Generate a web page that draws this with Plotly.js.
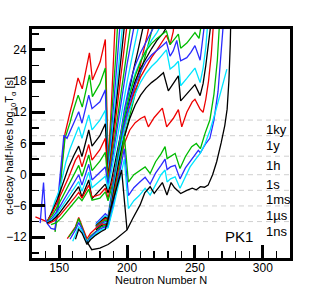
<!DOCTYPE html>
<html><head><meta charset="utf-8">
<script src="https://cdn.plot.ly/plotly-3.0.1.min.js"></script>
<style>html,body{margin:0;padding:0;background:#fff}#chart{width:322px;height:287px}</style>
</head><body><div id="chart"></div>
<script>
// Neutron number N and log10 T_alpha [s] for each isotopic chain
const n0 = [147,150,152,154.3,158,160,163.9,167,172.3,174.5,180.2,184,186,188,190,191.5];
const t0 = [-10.8,-4,2,7.9,12,14,18.6,16.5,23.4,18.2,21.7,26,2.5,11,22,31];
const n1 = [147,150,152,154.3,158,160,164,167,172.3,174.5,180,184,186,188,190,192,193.5];
const t1 = [-11,-5,1,7,10,12,15.3,13,19.2,15,17.5,20.5,1.5,8.5,16,24,31];
const n2 = [141,144,147,149,152,153.5,155.8,160,164.4,166.8,171.8,174.2,180,184,186,188,190,192,194,195.5];
const t2 = [-9.3,-10.3,-10.5,-5,3.8,7.6,7,9.5,12.1,9.9,15.3,12.7,14,16.3,0.5,6.5,13,19.5,26,31];
const n3 = [141,144,147,149.4,152,155,158,161,164.4,166.8,171.8,174.2,180,184,186,188,190,192,194,196,197.5];
const t3 = [-9.2,-7.5,-5,-3.5,-1,2.5,5,7,9.2,7,11.5,8.6,10.5,12.4,0,5,10.5,16,21.5,27,31];
const n4 = [141,145,149,153,157,161,164.4,166.8,171.8,174.2,180,184,186,188,190,192,194,196,198,199];
const t4 = [-9.1,-7,-4.5,-1.5,1.5,3.8,5.5,3.5,8.6,5.5,7.5,9.8,-0.5,3.5,8.3,13,18,23,28,31];
const n5 = [132.5,137,141,145,149,153,157,162,164.4,166.8,171.8,174.2,180,184,186,188,190,192,194,196,198,200,201];
const t5 = [-8.1,-8.6,-9,-7.3,-5.2,-2.8,-0.5,2.8,3.8,1.5,5.8,2.8,4.8,7,-1,2.8,7,11.5,16,20.3,24.5,28.3,31];
const n6 = [141,145,149,153,157,161,164.4,166.8,171.8,174.2,180,184,186,188,190,192,194,196,198,200,202,203.5,204.5];
const t6 = [-9.1,-7.8,-6,-4,-2,0,1.8,-0.3,3.8,0.8,2.6,4.3,-1.5,1.8,5.5,9.5,13.5,17.3,21,24.5,27.5,30,31.5];
const n7 = [136,138.5,140,141,145,149,153,157,161,164.4,166.8,171.8,174.2,180,184,186,188,190,192,194,196,198,200,203,205.5,207];
const t7 = [-9.3,-1.5,-8.5,-9.2,-8.3,-6.8,-5,-3.3,-1.5,0,-2,2,-1,0.5,1.5,-2,0.8,4.2,7.7,11.2,14.6,18,21.2,25.5,28.7,31];
const n8 = [141,145,149,153,157,161,164.4,166.8,171.8,174.2,180,184,186,188,190,192,194,196,198,200,204,207,209,210.5];
const t8 = [-9.2,-8.6,-7.3,-5.8,-4.2,-2.7,-1.3,-3.2,0.5,-2.5,-1.3,-0.3,-2.8,-0.3,2.7,5.8,8.9,12,15,17.8,23,26.8,29.3,31];
const n9 = [141,145,149,153,157,161,164.4,166.8,171.8,174.2,180,184,186,188,190,192,194,196,198,200,204,208,211,213,214];
const t9 = [-9.3,-8.8,-7.8,-6.5,-5,-3.5,-2.3,-4.3,-1,-4.6,-3,-1.8,-3.5,-1.8,0.8,3.5,6.2,9,11.7,14.3,19.3,23.8,27,29.5,31];
const n10 = [142,146,150,154,158,162,164.4,166.8,171.8,174.2,180,184,186,190,194,198,202,206,210,213,215,216.5,217.5];
const t10 = [-9.4,-8.9,-8,-6.8,-5.5,-4.2,-3.4,-4.5,-2,-4.3,-3.8,-2.6,-4.5,-0.5,4,8.5,13,17.3,21.3,24.5,27,29,31];
const n11 = [144,148,152,156,160,164.4,166.8,171.8,174.2,180,184,186,190,194,198,202,206,210,214,217,219,220.5];
const t11 = [-9.6,-9.2,-8.2,-7,-5.8,-4.3,-5,-2.8,-4.9,-4.5,-3.3,-5,-1.2,3,7.3,11.6,15.8,19.7,23.4,26.3,28.5,31];
const n12 = [177,181,184,186,190,194,198,202,206,210,214,218,221,222.5];
const t12 = [-9.4,-8.3,-7.5,-8,-1,6,12.5,17.5,21,23.5,25.5,27.5,29,31];
const n13 = [177,181,184,186,190,194,198,202,206,210,214,218,222,224.5,226];
const t13 = [-9.6,-8.6,-7.9,-8.3,-1.7,5,11.3,16,19.5,22,24,25.8,27.3,28.5,31];
const n14 = [177,181,184,186,190,194,198,202,206,210,214,218,222,226.8,229,230];
const t14 = [-9.8,-8.9,-8.2,-8.5,-2.3,4,10,14.5,18,20.5,22.5,24.2,25.8,27.3,28.3,31];
const n15 = [177,181.6,184,186,190,194,198,202,206,210,214,218,222,226,229,231.7,234,235.5];
const t15 = [-9.9,-8.9,-8.4,-8.7,-2.9,3,8.8,13,16.3,18.8,20.8,22.5,24,25.5,26.8,25,27.5,31];
const n16 = [177,181,184,186,190,194,198,202,206,210,214,218,222,226,229,231.7,235,237.8,239.5,244,247,250,253,255,256];
const t16 = [-10,-9.2,-8.7,-8.8,-1.8,5,11,15.5,19,21.8,23.8,25.2,26.2,27,27.6,25,26,27,24.3,25.3,26.3,27.3,26.2,29,31];
const n17 = [177,181,184,186,190,194,198,202,206,210,214,218,222,226,229,231.7,234,236.6,239.5,244,247,250,253.8,255.5,257,258];
const t17 = [-10.2,-9.4,-9,-9,-2.3,4.2,9.8,14,17.3,19.8,21.7,23,24,24.8,25.5,22.8,23.8,25.8,21.9,22.5,23.5,24.8,22,25,28.5,31];
const n18 = [177,181,184,186,190,194,198,202,206,210,214,218,222,226,229,231.7,235,237.8,239.5,244,247,250,253.8,256,258,259.5,260];
const t18 = [-10.4,-9.6,-9.3,-9.3,-2.8,3.4,8.6,12.5,15.5,17.8,19.5,20.8,21.8,23,24,20.3,21,21.8,17.1,18.5,19.5,20.5,17.7,20.5,24.5,28.5,31];
const n19 = [177,181,184,186,190,194,198,202,206,210,214,218,222,226.8,230.4,234,237.8,239.5,244,247,250,253.8,256,258,260,261.5,262];
const t19 = [-10.6,-9.8,-9.5,-9.5,-3.4,2.5,7.3,10.8,13.4,15.3,16.7,17.7,18.5,19.6,16.1,17.5,19,14.2,15.5,16.5,17.3,15.2,17.5,21,25,28.5,31];
const n20 = [156,160,162,164.4,166.8,170.5,173,177,181.6,184,186,190,194,198,202,206,210,213,215.7,220,226,229.2,234,237.8,240.3,244,248,250,253.8,256,258,260,262,263.5,264];
const t20 = [-12.3,-10.9,-10,-8.2,-9.8,-12.3,-11.3,-10.3,-9.4,-9.7,-9.7,-4,1.5,6,8.6,10,10.8,11.2,9.2,11,12.8,9.2,10.8,12.5,9.2,12,14,14.5,12.6,12,14.5,18,23,28.5,31];
const n21 = [157,160,162,164.4,166.8,170.5,173,177,181,184,186,190,194,198,201,205,209,213.3,217,221,225,228,229.5,232,235.4,239,243,247.6,251,254,257.5,261,264,266.5,268,268.5];
const t21 = [-12,-11,-10.2,-8.4,-10,-12.8,-11.8,-10.8,-10,-9.8,-9.8,-4.8,0.5,7.5,-1.4,0,0.8,1.5,0.25,2.5,4,5.4,3.1,3.6,4.1,1.2,3.5,5.4,6,5,8,10.5,15.5,22,28.5,31];
const n22 = [158,162,164.4,166.8,170.5,173,177,181,184,186,190,194,198,201,205,209,213.3,217,221,225,228,229.5,232,235.4,239,243,246.4,250,252.5,254,258,261,264,267,269.5,271,271.5];
const t22 = [-12.4,-10.6,-9.2,-10.4,-13,-12,-11,-10.3,-10,-10,-5.5,-0.5,5,-4,-2.5,-1.5,-0.5,-1.8,0.3,1.8,3,1,1.5,1.8,-0.8,1.3,2.5,3.7,4.7,4.2,6,7,10.5,16,23,28.5,31];
const n23 = [160,162,164.4,166.8,170.5,173,177,181,184,186,190,194,198,201,205,209,213.3,217,221,225,228,229.5,232,235.4,239,243,246.4,250,253.8,257.5,261.2,265,269,273.5];
const t23 = [-12.8,-11.6,-10,-10.8,-13.2,-12.3,-11.3,-10.6,-10.3,-10.2,-6.2,-1.8,3,-6.5,-5,-4,-2.6,-3.9,-1.8,0,0.9,-1.4,-0.8,-0.4,-2.6,-0.3,1.5,2.8,4.1,6,8.6,12,16,20.3];
const n24 = [170.3,174,180,186,192,196,200,204,209.6,213,217,220,223,226,229.4,232.4,235,239.5,244,248,251,254,257,259.7,263,266,269.3,272,273.7,275,276,276.5];
const t24 = [-12.8,-14.4,-14.1,-13.4,-12.3,-11.5,-10.6,-8.5,-5.8,-3.5,-2.3,-3.6,-2.5,-1.5,-3.9,-1.5,-2.5,-3.6,-3,-2.6,-2.9,-2.3,-2.4,-2,0,2.5,6.1,9.5,12.6,18,25,31];
const n25 = [162,164.4,166.8,170.5,173,177,181,184,188,192,196,200];
const t25 = [-12.4,-10.5,-11.2,-13.4,-12.5,-11.6,-10.9,-10.5,-6.5,-2.8,0.9,-10.6];

const chainN = [n0,n1,n2,n3,n4,n5,n6,n7,n8,n9,n10,n11,n12,n13,n14,n15,n16,n17,n18,n19,n20,n21,n22,n23,n24,n25];
const chainT = [t0,t1,t2,t3,t4,t5,t6,t7,t8,t9,t10,t11,t12,t13,t14,t15,t16,t17,t18,t19,t20,t21,t22,t23,t24,t25];
const palette = ['#ee0000','#00bb00','#2b2bff','#00e5ff','#000000'];

// Reference time scales (log10 seconds)
const scaleLabels = ['1ky','1y','1h','1s','1ms','1\u00b5s','1ns'];
const scaleValues = [10.5, 7.5, 3.56, 0, -3, -6, -9];

const traces = chainN.map((nx, i) => ({
  x: nx, y: chainT[i], mode: 'lines', type: 'scatter',
  line: {color: i === 25 ? '#000000' : palette[i % 5], width: 1.3},
  hoverinfo: 'skip', showlegend: false
}));

const shapes = scaleValues.map(v => ({
  type: 'line', xref: 'paper', x0: 0, x1: 1, yref: 'y', y0: v, y1: v,
  line: {color: '#cfcfcf', width: 1, dash: '5px,4px'}, layer: 'below'
}));

const annotations = scaleValues.map((v, i) => ({
  text: scaleLabels[i], xref: 'paper', x: 0.899, xanchor: 'left',
  yref: 'y', y: v, yanchor: 'top', showarrow: false,
  font: {size: 13, color: '#000'}
}));
annotations.push({text: 'PK1', xref: 'paper', x: 0.8035, xanchor: 'center',
  yref: 'paper', y: 0.095, yanchor: 'middle', showarrow: false, font: {size: 15, color: '#000'}});
annotations.push({text: 'Neutron Number N', xref: 'paper', x: 0.5, xanchor: 'center',
  yref: 'paper', y: -0.097, yanchor: 'middle', showarrow: false, font: {size: 11, color: '#000'}});
annotations.push({text: '\u03b1-decay half-lives log<sub>10</sub>T<sub>\u03b1</sub> [s]', xref: 'paper', x: -0.085, xanchor: 'center',
  yref: 'paper', y: 0.49, yanchor: 'middle', textangle: -90, showarrow: false, font: {size: 11, color: '#000'}});

const layout = {
  width: 322, height: 287,
  margin: {l: 32, r: 32, t: 29, b: 29, pad: 0},
  paper_bgcolor: '#ffffff', plot_bgcolor: '#ffffff', showlegend: false,
  font: {family: 'Liberation Sans, Arial, sans-serif', size: 12, color: '#000'},
  xaxis: {
    range: [130, 320], tickmode: 'linear', tick0: 0, dtick: 50,
    ticks: 'inside', ticklen: 13, tickwidth: 3, tickcolor: '#000',
    showline: true, linewidth: 3, linecolor: '#000', mirror: true,
    showgrid: false, zeroline: false, automargin: false,
    tickfont: {size: 12}, ticklabelstandoff: -3,
    minor: {tick0: 0, dtick: 10, ticks: 'inside', ticklen: 7, tickwidth: 1.5, tickcolor: '#000', showgrid: false}
  },
  yaxis: {
    range: [-16, 28], tickmode: 'linear', tick0: 0, dtick: 6,
    ticks: 'inside', ticklen: 13, tickwidth: 3, tickcolor: '#000',
    showline: true, linewidth: 3, linecolor: '#000', mirror: true,
    showgrid: false, zeroline: false, automargin: false,
    tickfont: {size: 12},
    minor: {tick0: 0, dtick: 3, ticks: 'inside', ticklen: 7, tickwidth: 1.5, tickcolor: '#000', showgrid: false}
  },
  shapes: shapes,
  annotations: annotations
};

Plotly.newPlot('chart', traces, layout, {staticPlot: true, displayModeBar: false});
</script>
</body></html>
